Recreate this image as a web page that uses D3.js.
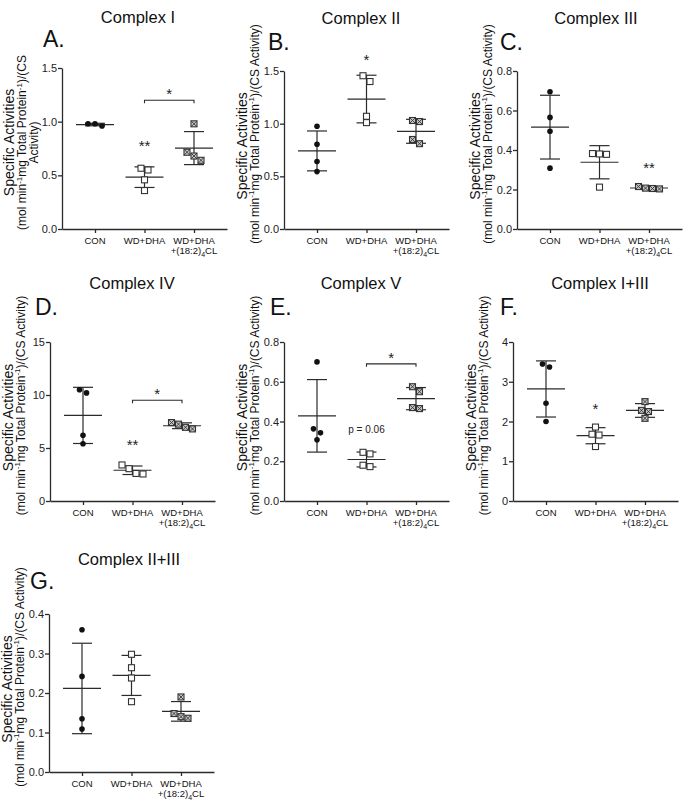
<!DOCTYPE html>
<html><head><meta charset="utf-8">
<script src="https://cdn.jsdelivr.net/npm/d3@7"></script>
<style>body{margin:0;background:#fff} svg{display:block;font-family:"Liberation Sans",Arial,sans-serif}</style>
</head><body><svg id="c" width="683" height="801"></svg>
<script>
// ---------- DATA ----------
const groups = ["CON", "WD+DHA", "WD+DHA+(18:2)4CL"];
// Complex I
const cI_con = [0.98, 0.96, 0.98];
const cI_wd  = [0.566, 0.55, 0.458, 0.358];
const cI_cl  = [0.98, 0.715, 0.68, 0.64];
const ticksI = [0, 0.5, 1.0, 1.5];
// Complex II
const cII_con = [0.975, 0.805, 0.64, 0.545];
const cII_wd  = [1.455, 1.40, 1.07, 1.01];
const cII_cl  = [1.03, 1.02, 0.85, 0.81];
const ticksII = [0, 0.5, 1.0, 1.5];
// Complex III
const cIII_con = [0.695, 0.565, 0.495, 0.308];
const cIII_wd  = [0.378, 0.380, 0.382, 0.212];
const cIII_cl  = [0.205, 0.203, 0.207, 0.215];
const ticksIII = [0, 0.2, 0.4, 0.6, 0.8];
// Complex IV
const cIV_con = [10.5, 10.2, 6.2, 5.4];
const cIV_wd  = [3.4, 3.05, 2.6, 2.55];
const cIV_cl  = [7.4, 7.25, 6.95, 6.8];
const ticksIV = [0, 5, 10, 15];
// Complex V
const cV_con = [0.70, 0.363, 0.343, 0.308];
const cV_wd  = [0.245, 0.237, 0.18, 0.173];
const cV_cl  = [0.575, 0.55, 0.47, 0.465];
const ticksV = [0, 0.2, 0.4, 0.6, 0.8];
// Complex I+III
const cI3_con = [3.445, 3.37, 2.46, 2.0];
const cI3_wd  = [1.86, 1.68, 1.66, 1.37];
const cI3_cl  = [2.5, 2.28, 2.25, 2.08];
const ticksI3 = [0, 1, 2, 3, 4];
// Complex II+III
const cII3_con = [0.36, 0.242, 0.135, 0.109];
const cII3_wd  = [0.298, 0.264, 0.238, 0.178];
const cII3_cl  = [0.19, 0.148, 0.14, 0.136];
const ticksII3 = [0, 0.1, 0.2, 0.3, 0.4];

// ---------- LAYOUT ----------
const plotW = 165;
const f1 = d3.format(".1f"), f0 = d3.format("d");
const panels = [
  {title:"Complex I", letter:"A.", data:[cI_con,cI_wd,cI_cl], ticks:ticksI, fmt:f1,
   x0:62, top:68, bottom:229, tx:138, ty:23, lx:43, ly:47, wrap:true,
   stars:[{g:1, v:0.8, t:"**"}], bracket:{v:1.2, t:"*"}},
  {title:"Complex II", letter:"B.", data:[cII_con,cII_wd,cII_cl], ticks:ticksII, fmt:f1,
   x0:284, top:71, bottom:229, tx:361, ty:24, lx:268, ly:50,
   stars:[{g:1, v:1.63, t:"*"}]},
  {title:"Complex III", letter:"C.", data:[cIII_con,cIII_wd,cIII_cl], ticks:ticksIII, fmt:f1,
   x0:517, top:71, bottom:229, tx:596, ty:24, lx:500, ly:50,
   stars:[{g:2, v:0.325, t:"**"}]},
  {title:"Complex IV", letter:"D.", data:[cIV_con,cIV_wd,cIV_cl], ticks:ticksIV, fmt:f0,
   x0:50, top:342, bottom:501, tx:132, ty:289, lx:35, ly:315,
   stars:[{g:1, v:5.6, t:"**"}], bracket:{v:9.5, t:"*"}},
  {title:"Complex V", letter:"E.", data:[cV_con,cV_wd,cV_cl], ticks:ticksV, fmt:f1,
   x0:284, top:342, bottom:501, tx:361, ty:289, lx:270, ly:315,
   stars:[{g:1, v:0.36, t:"p = 0.06", small:true}], bracket:{v:0.69, t:"*"}},
  {title:"Complex I+III", letter:"F.", data:[cI3_con,cI3_wd,cI3_cl], ticks:ticksI3, fmt:f0,
   x0:513, top:342, bottom:501, tx:600, ty:289, lx:500, ly:315,
   stars:[{g:1, v:2.4, t:"*"}]},
  {title:"Complex II+III", letter:"G.", data:[cII3_con,cII3_wd,cII3_cl], ticks:ticksII3, fmt:f1,
   x0:49, top:614, bottom:772, tx:129, ty:565, lx:30, ly:589,
   stars:[]}
];

const ink = "#2b2b2b";
const svg = d3.select("#c");

function yLabel(g, x0, cy, wrap) {
  const t = g.append("g").attr("transform", `translate(${x0},0) rotate(-90)`);
  const lines = wrap ? [-48, -36, -24.5] : [-37, -25.5];
  const c1 = wrap ? cy - 6 : cy - 4;
  const c2 = wrap ? cy - 6 : cy - 16;
  t.append("text").attr("x", -c1).attr("y", lines[0]).attr("text-anchor","middle")
    .attr("font-size", 14).attr("fill","#111").text("Specific Activities");
  const l2 = t.append("text").attr("x", -c2).attr("y", lines[1]).attr("text-anchor","middle")
    .attr("font-size", 12).attr("fill","#111");
  l2.append("tspan").text("(mol min");
  l2.append("tspan").attr("dy",-4.5).attr("font-size",8).text("-1");
  l2.append("tspan").attr("dy",4.5).text("mg Total Protein");
  l2.append("tspan").attr("dy",-4.5).attr("font-size",8).text("-1");
  l2.append("tspan").attr("dy",4.5).text(wrap ? ")/(CS" : ")/(CS Activity)");
  if (wrap) {
    t.append("text").attr("x", -c2).attr("y", lines[2]).attr("text-anchor","middle")
      .attr("font-size", 12).attr("fill","#111").text("Activity)");
  }
}

function swarm(vals, y, cx) {
  const pts = vals.map(v => ({v, py: y(v)})).sort((a,b) => a.py - b.py);
  const clusters = [];
  pts.forEach(p => {
    const last = clusters[clusters.length-1];
    if (last && p.py - last[last.length-1].py < 6) last.push(p); else clusters.push([p]);
  });
  clusters.forEach(c => c.forEach((p,i) => p.px = cx + (i - (c.length-1)/2) * 7));
  return pts;
}

panels.forEach(p => {
  const g = svg.append("g");
  const x = d3.scalePoint().domain(groups).range([p.x0, p.x0 + plotW]).padding(2/3);
  const y = d3.scaleLinear().domain([0, d3.max(p.ticks)]).range([p.bottom, p.top]);

  // titles
  g.append("text").attr("x", p.tx).attr("y", p.ty).attr("text-anchor","middle")
    .attr("font-size", 16.5).attr("fill","#111").text(p.title);
  g.append("text").attr("x", p.lx).attr("y", p.ly)
    .attr("font-size", 23).attr("fill","#111").text(p.letter);

  // y axis
  const ya = g.append("g").attr("transform", `translate(${p.x0},0)`)
    .call(d3.axisLeft(y).tickValues(p.ticks).tickFormat(p.fmt).tickSize(4).tickSizeOuter(0));
  ya.attr("font-family", null).attr("font-size", 11);
  ya.selectAll("text").attr("fill","#222").attr("x",-5);
  ya.selectAll("path,line").attr("stroke", ink).attr("stroke-width", 1.3);

  // x axis
  const xa = g.append("g").attr("transform", `translate(0,${p.bottom})`)
    .call(d3.axisBottom(x).tickSize(4).tickSizeOuter(0).tickFormat(""));
  xa.selectAll("path,line").attr("stroke", ink).attr("stroke-width", 1.3);

  // x labels
  groups.forEach((gr, i) => {
    const t = g.append("text").attr("x", x(gr)).attr("y", p.bottom + 15)
      .attr("text-anchor","middle").attr("font-size", 9.5).attr("fill","#111");
    if (i < 2) { t.text(gr); }
    else {
      t.text("WD+DHA");
      const t2 = g.append("text").attr("x", x(gr)).attr("y", p.bottom + 25)
        .attr("text-anchor","middle").attr("font-size", 9.5).attr("fill","#111");
      t2.append("tspan").text("+(18:2)");
      t2.append("tspan").attr("dy",2.5).attr("font-size",7).text("4");
      t2.append("tspan").attr("dy",-2.5).text("CL");
    }
  });

  // y label
  yLabel(g, p.x0, (p.top + p.bottom) / 2, p.wrap);

  // mean + SD
  p.data.forEach((vals, i) => {
    const cx = x(groups[i]);
    const m = d3.mean(vals), sd = d3.deviation(vals);
    const eb = g.append("g").attr("stroke", ink).attr("stroke-width", 1.2);
    eb.append("line").attr("x1", cx).attr("x2", cx).attr("y1", y(m - sd)).attr("y2", y(m + sd));
    eb.append("line").attr("x1", cx - 10).attr("x2", cx + 10).attr("y1", y(m + sd)).attr("y2", y(m + sd));
    eb.append("line").attr("x1", cx - 10).attr("x2", cx + 10).attr("y1", y(m - sd)).attr("y2", y(m - sd));
    eb.append("line").attr("x1", cx - 19).attr("x2", cx + 19).attr("y1", y(m)).attr("y2", y(m));

    const pts = swarm(vals, y, cx);
    pts.forEach(pt => {
      if (i === 0) {
        g.append("circle").attr("cx", pt.px).attr("cy", pt.py).attr("r", 2.8).attr("fill", "#111");
      } else if (i === 1) {
        g.append("rect").attr("x", pt.px - 3).attr("y", pt.py - 3).attr("width", 6).attr("height", 6)
          .attr("fill", "#fff").attr("stroke", "#333").attr("stroke-width", 1.1);
      } else {
        g.append("rect").attr("x", pt.px - 3).attr("y", pt.py - 3).attr("width", 6).attr("height", 6)
          .attr("fill", "#c8c8c8").attr("stroke", "#333").attr("stroke-width", 1.1);
        g.append("path").attr("d", `M${pt.px-3},${pt.py-3}L${pt.px+3},${pt.py+3}M${pt.px+3},${pt.py-3}L${pt.px-3},${pt.py+3}`)
          .attr("stroke", "#333").attr("stroke-width", 0.9);
      }
    });
  });

  // significance marks
  p.stars.forEach(s => {
    g.append("text").attr("x", x(groups[s.g])).attr("y", y(s.v) + (s.small ? 4 : 8))
      .attr("text-anchor","middle").attr("font-size", s.small ? 10 : 15).attr("fill","#222").text(s.t);
  });
  if (p.bracket) {
    const x1 = x(groups[1]), x2 = x(groups[2]), by = y(p.bracket.v);
    g.append("path").attr("d", `M${x1},${by+3}V${by}H${x2}V${by+3}`)
      .attr("fill","none").attr("stroke", ink).attr("stroke-width", 1.1);
    g.append("text").attr("x", (x1 + x2) / 2).attr("y", by - 1)
      .attr("text-anchor","middle").attr("font-size", 15).attr("fill","#222").text(p.bracket.t);
  }
});
</script></body></html>
